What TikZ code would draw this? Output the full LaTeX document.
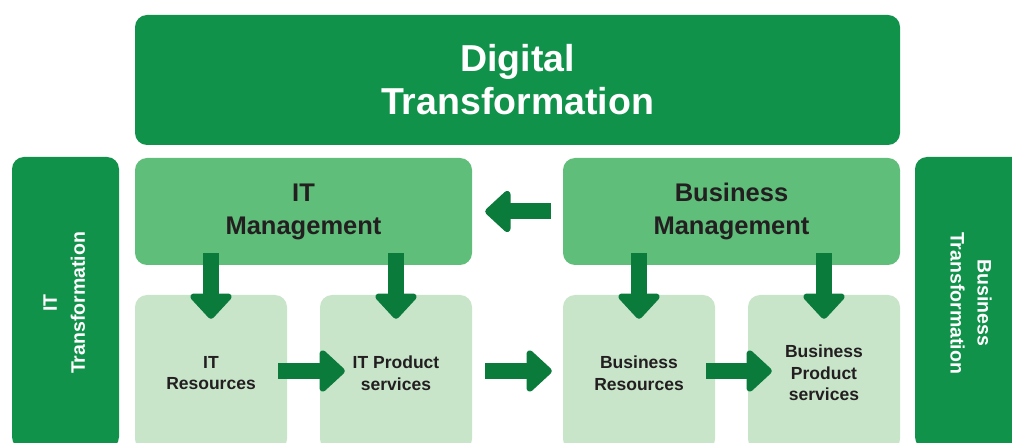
\documentclass[tikz,border=0pt]{standalone}
\usepackage{fontspec}
\setmainfont{Liberation Sans}
\usetikzlibrary{arrows.meta}
\definecolor{gdark}{HTML}{10924A}
\definecolor{gmid}{HTML}{5FBE7A}
\definecolor{glight}{HTML}{C8E5CA}
\definecolor{garrow}{HTML}{0B7B3C}
\definecolor{tdark}{HTML}{231F20}
\tikzset{
  bigbox/.style={fill=gdark, rounded corners=12pt, inner sep=0pt, text=white, align=center,
     font=\bfseries\fontsize{37.5}{43}\selectfont},
  sidebox/.style={fill=gdark, rounded corners=12pt, inner sep=0pt, text=white, align=center,
     minimum width=292pt, font=\bfseries\fontsize{19.5}{27}\selectfont},
  mgmtbox/.style={fill=gmid, rounded corners=12pt, inner sep=0pt, text=tdark, align=center,
     minimum width=337pt, minimum height=107pt, font=\bfseries\fontsize{25.5}{33}\selectfont},
  resbox/.style={fill=glight, rounded corners=12pt, inner sep=0pt, text=tdark, align=center,
     minimum width=152pt, minimum height=156pt, font=\bfseries\fontsize{17.5}{21.5}\selectfont},
  blockarrow/.style={draw=garrow, line width=16pt,
     -{Triangle[length=27pt,width=48pt,round]}},
}
\begin{document}
\begin{tikzpicture}[x=1pt,y=-1pt]
\useasboundingbox (0,0) rectangle (1012,443);
\clip (0,0) rectangle (1012,443);
\node[bigbox, minimum width=765pt, minimum height=130pt] (dt) at (517.5,80) {Digital\\Transformation};
\node[sidebox, rotate=90, minimum height=107pt] (itt) at (65.5,303)
  {\raisebox{5pt}{\begin{tabular}{@{}c@{}}IT\\[1pt]Transformation\end{tabular}}};
\node[sidebox, rotate=-90, minimum height=112pt] (btt) at (971,303) {Business\\Transformation};
\node[mgmtbox] (itm) at (303.5,211.5) {IT\\Management};
\node[mgmtbox] (bm) at (731.5,211.5) {Business\\Management};
\node[resbox] (itr) at (211,373) {IT\\Resources};
\node[resbox] (itp) at (396,373) {IT Product\\services};
\node[resbox] (br) at (639,373) {Business\\Resources};
\node[resbox] (bp) at (824,373) {Business\\Product\\services};
% vertical arrows
\draw[blockarrow] ([yshift=12pt]itr.north |- itm.south) -- ([yshift=-24pt]itr.north);
\draw[blockarrow] ([yshift=12pt]itp.north |- itm.south) -- ([yshift=-24pt]itp.north);
\draw[blockarrow] ([yshift=12pt]br.north |- bm.south) -- ([yshift=-24pt]br.north);
\draw[blockarrow] ([yshift=12pt]bp.north |- bm.south) -- ([yshift=-24pt]bp.north);
% horizontal arrows
\draw[blockarrow] ([xshift=-12pt]bm.west) -- ([xshift=13pt]itm.east);
\draw[blockarrow] ([xshift=-9pt]itr.east |- 0,371) -- ([xshift=25pt]itp.west |- 0,371);
\draw[blockarrow] ([xshift=13pt]itp.east |- 0,371) -- ([xshift=-11pt]br.west |- 0,371);
\draw[blockarrow] ([xshift=-9pt]br.east |- 0,371) -- ([xshift=24pt]bp.west |- 0,371);
\end{tikzpicture}
\end{document}
